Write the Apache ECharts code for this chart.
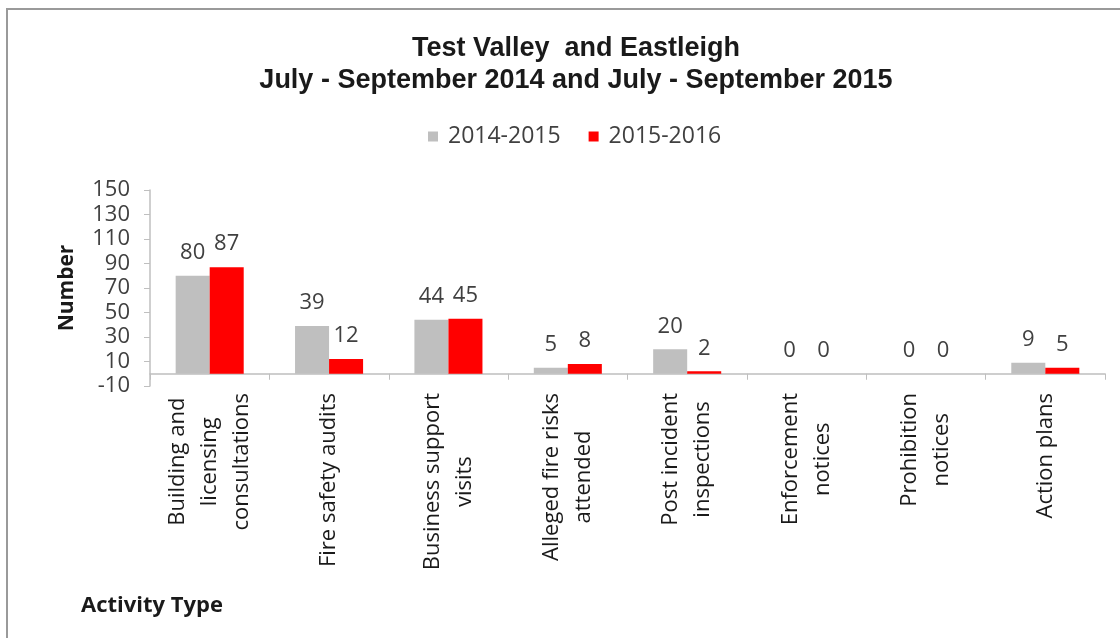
<!DOCTYPE html>
<html>
<head>
<meta charset="utf-8">
<script src="https://cdn.jsdelivr.net/npm/echarts@6/dist/echarts.min.js"></script>
<style>
  html, body { margin: 0; padding: 0; background: #fff; }
  #chart { width: 1120px; height: 638px; }
</style>
</head>
<body>
<div id="chart"></div>
<script>
// 数据
const categories = [
  'Building and\nlicensing\nconsultations',
  'Fire safety audits',
  'Business support\nvisits',
  'Alleged fire risks\nattended',
  'Post incident\ninspections',
  'Enforcement\nnotices',
  'Prohibition\nnotices',
  'Action plans'
]
const values2014 = [80, 39, 44, 5, 20, 0, 0, 9]
const values2015 = [87, 12, 45, 8, 2, 0, 0, 5]
const seriesNames = ['2014-2015', '2015-2016']

const bodyFont = '"Open Sans", "DejaVu Sans", sans-serif'
const titleFont = '"Liberation Sans", Arial, sans-serif'

const chart = echarts.init(document.getElementById('chart'))

const valueLabel = {
  show: true,
  position: 'top',
  distance: 12,
  fontFamily: bodyFont,
  fontSize: 22,
  color: '#404040'
}

chart.setOption({
  backgroundColor: '#fff',
  animation: false,
  title: [
    {
      text: 'Test Valley  and Eastleigh\nJuly - September 2014 and July - September 2015',
      left: 571,
      textAlign: 'center',
      top: 28,
      textStyle: {
        fontFamily: titleFont,
        fontWeight: 'bold',
        fontSize: 27,
        lineHeight: 32,
        color: '#1a1a1a'
      }
    },
    {
      text: 'Activity Type',
      left: 76,
      top: 590,
      textStyle: {
        fontFamily: bodyFont,
        fontWeight: 'bold',
        fontSize: 22,
        color: '#1a1a1a'
      }
    }
  ],
  legend: {
    top: 120,
    left: 423,
    itemWidth: 10,
    itemHeight: 10,
    itemGap: 28,
    icon: 'rect',
    textStyle: { fontFamily: bodyFont, fontSize: 23, color: '#404040', padding: [0, 0, 0, 5] },
    data: seriesNames
  },
  // 外框
  graphic: [{
    type: 'rect',
    shape: { x: 7, y: 9, width: 1125, height: 640 },
    style: { fill: 'none', stroke: '#9a9a9a', lineWidth: 2 },
    silent: true
  }],
  grid: { left: 150, right: 15, top: 190, bottom: 252 },
  xAxis: {
    type: 'category',
    data: categories,
    axisLine: { onZero: true, lineStyle: { color: '#bfbfbf', width: 1.5 } },
    axisTick: { show: true, alignWithLabel: false, length: 6, lineStyle: { color: '#bfbfbf' } },
    axisLabel: {
      interval: 0,
      rotate: 90,
      margin: 7,
      fontFamily: bodyFont,
      fontSize: 22,
      lineHeight: 32,
      color: '#1a1a1a',
      formatter: v => v.split('\n').map(s => '{c|' + s + '}').join('\n'),
      rich: { c: { align: 'center', fontFamily: bodyFont, fontSize: 22, lineHeight: 32, color: '#1a1a1a' } }
    }
  },
  yAxis: {
    type: 'value',
    min: -10,
    max: 150,
    interval: 20,
    name: 'Number',
    nameLocation: 'middle',
    nameGap: 72,
    nameRotate: 90,
    nameTextStyle: { fontFamily: bodyFont, fontWeight: 'bold', fontSize: 21, color: '#1a1a1a' },
    axisLine: { show: true, lineStyle: { color: '#bfbfbf', width: 1.5 } },
    axisTick: { show: true, length: 6, lineStyle: { color: '#bfbfbf' } },
    axisLabel: { fontFamily: bodyFont, fontSize: 22, color: '#404040', margin: 20 },
    splitLine: { show: false }
  },
  series: [
    {
      name: seriesNames[0],
      type: 'bar',
      data: values2014,
      barGap: '0%',
      barCategoryGap: '43%',
      itemStyle: { color: '#bfbfbf' },
      label: valueLabel
    },
    {
      name: seriesNames[1],
      type: 'bar',
      data: values2015,
      itemStyle: { color: '#ff0000' },
      label: valueLabel
    }
  ]
})
</script>
</body>
</html>
